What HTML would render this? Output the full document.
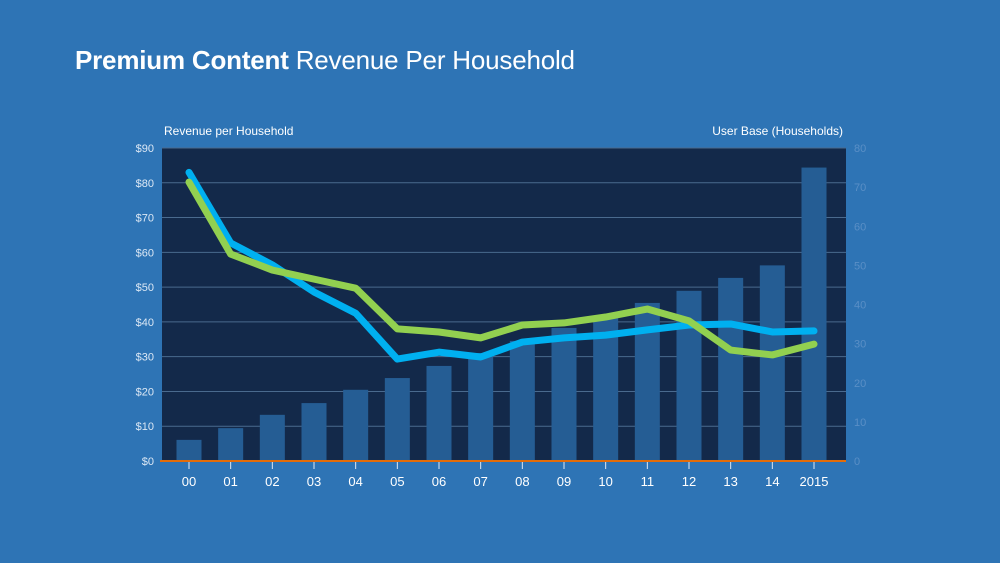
<!DOCTYPE html>
<html><head><meta charset="utf-8"><style>
html,body{margin:0;padding:0;width:1000px;height:563px;overflow:hidden;background:#2e74b5;font-family:"Liberation Sans",sans-serif;}
#title{position:absolute;left:75px;top:45px;color:#fff;font-size:26px;letter-spacing:-0.2px;font-family:"Liberation Sans",sans-serif;}
</style></head><body>
<div id="title"><b>Premium Content</b> Revenue Per Household</div>
<svg id="c" width="1000" height="563" style="position:absolute;left:0;top:0"></svg>
<script>
const categories=["00","01","02","03","04","05","06","07","08","09","10","11","12","13","14","2015"];
const userBase=[5.4,8.4,11.8,14.8,18.2,21.2,24.3,27.6,30.7,34,37,40.4,43.5,46.8,50,75];
const blueSeries=[83,62.7,56.4,48.6,42.5,29.3,31.3,29.9,34.2,35.4,36.2,37.7,39.1,39.4,37.1,37.4];
const greenSeries=[80.2,59.5,54.9,52.3,49.7,38,37.1,35.4,39.1,39.7,41.4,43.7,40.3,31.9,30.5,33.6];
const leftTicks=[0,10,20,30,40,50,60,70,80,90];
const rightTicks=[0,10,20,30,40,50,60,70,80];
const svg=document.getElementById('c');const NS='http://www.w3.org/2000/svg';
const L=162,R=846,T=148,B=461;
const x=i=>189+i*(814-189)/(categories.length-1);
const yl=v=>B-(v/90)*(B-T);
const yr=v=>B-(v/80)*(B-T);
function mk(t,a,p){const e=document.createElementNS(NS,t);for(const k in a)e.setAttribute(k,a[k]);(p||svg).appendChild(e);return e;}
let e=mk('rect',{x:L,y:T,width:R-L,height:B-T,fill:'#13294a'});

leftTicks.forEach(v=>{
 if(v>0){let g=mk('line',{x1:L,x2:R,y1:yl(v),y2:yl(v),stroke:'#4a6a8e','stroke-width':1});
 }
 let t=mk('text',{x:L-8,y:yl(v)+4,'text-anchor':'end',fill:'#dce8f5','font-size':11});t.textContent='$'+v;
 
});
rightTicks.forEach(v=>{
 let t=mk('text',{x:R+8,y:yr(v)+4,fill:'#5a8fc6','font-size':11});t.textContent=v;
 
});
userBase.forEach((v,i)=>{
 let b=mk('rect',{x:x(i)-12.5,y:yr(v),width:25,height:B-yr(v),fill:'#255d94'});
 
});
e=mk('line',{x1:L-2,x2:R,y1:B,y2:B,stroke:'#e36c09','stroke-width':2});

categories.forEach((c,i)=>{
 let k=mk('line',{x1:x(i),x2:x(i),y1:B+1,y2:B+8,stroke:'#dce8f5','stroke-width':1});
 
 let t=mk('text',{x:x(i),y:B+25,'text-anchor':'middle',fill:'#fff','font-size':13});t.textContent=c;
 
});
function line(d,col,name){
 let p=mk('polyline',{points:d.map((v,i)=>x(i)+','+yl(v)).join(' '),fill:'none',stroke:col,'stroke-width':7,'stroke-linecap':'round','stroke-linejoin':'round'});
 
}
line(blueSeries,'#00b0f0','blue-line');
line(greenSeries,'#92d050','green-line');
e=mk('text',{x:164,y:135,fill:'#fff','font-size':12});e.textContent='Revenue per Household';

e=mk('text',{x:843,y:135,'text-anchor':'end',fill:'#fff','font-size':12});e.textContent='User Base (Households)';

</script>
</body></html>
